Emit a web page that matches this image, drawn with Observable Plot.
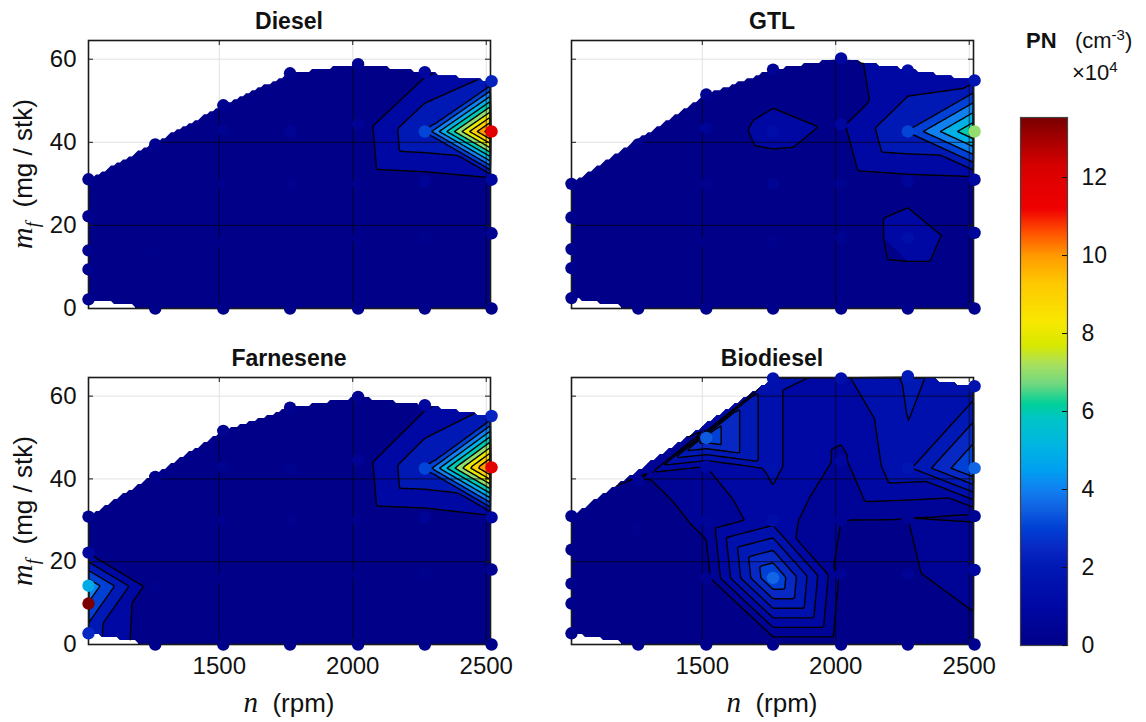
<!DOCTYPE html>
<html>
<head>
<meta charset="utf-8">
<script src="https://cdn.jsdelivr.net/npm/d3@7"></script>
<script src="https://cdn.jsdelivr.net/npm/@observablehq/plot@0.6"></script>
<style>
  body { margin: 0; background: #fff; font-family: "Liberation Sans", Arial, sans-serif; }
  #root { position: relative; width: 1146px; height: 722px; overflow: hidden; background: #fff; }
  .abs { position: absolute; }
  .title { font-weight: bold; font-size: 23px; text-align: center; width: 402px; color: #111; }
  .math { font-family: "Liberation Serif", "DejaVu Serif", serif; font-style: italic; }
  .xlab { font-size: 26px; text-align: center; width: 402px; color: #111; }
  .ylab { font-size: 26px; text-align: center; width: 280px; height: 34px; line-height: 34px; transform: rotate(-90deg); color: #111; white-space: nowrap; }
</style>
</head>
<body>
<div id="root"></div>
<script>
// ---------------- data ----------------
const fuels = ["Diesel", "GTL", "Farnesene", "Biodiesel"];
const rpm = [1010,1010,1010,1010,1010, 1260,1260,1260,1260, 1515,1515,1515,1515,1515,
             1765,1765,1765,1765,1765, 2020,2020,2020,2020,2020, 2270,2270,2270,2270,2270,
             2520,2520,2520,2520,2520];

const mfDiesel = [2.2,9.4,14,22.2,31.1, 0,14,28,39.5, 0,16,30,43,48.9, 0,16,30,42.6,56.6,
                  0,17,30,44.3,58.8, 0,17,30.6,42.6,56.9, 0,18.1,31,42.6,54.7];
const pnDiesel = [0.2,0.2,0.2,0.2,0.2, 0.1,0.1,0.1,0.2, 0.1,0.1,0.2,0.3,0.3, 0.1,0.1,0.2,0.4,0.3,
                  0.1,0.1,0.2,0.4,0.3, 0.1,0.2,0.5,3.1,0.8, 0.1,0.3,0.9,11.9,2.3];

const mfGTL = [2.5,9.7,14.3,21.9,30, 0,14,28,39.5, 0,16,30,43.4,51.5, 0,16,30,42.6,57.5,
               0,17,30,44.3,60.2, 0,17,30.6,42.6,57.3, 0,18.2,31,42.6,54.9];
const pnGTL = [0.2,0.2,0.2,0.2,0.2, 0.1,0.1,0.1,0.2, 0.1,0.1,0.2,0.5,0.3, 0.1,0.2,0.4,1.3,0.5,
               0.1,0.3,0.3,0.85,0.9, 0.2,1.4,0.65,3.1,1.2, 0.2,0.6,0.85,7.0,1.8];

const mfFarnesene = [2.7,9.9,14.2,22.2,30.9, 0,14,28,40.5, 0,16,30,43,51.6, 0,16,30,42.6,57.2,
                     0,17,30,44.5,59.8, 0,17,30.7,42.5,57.8, 0,18.1,30.7,42.8,55.2];
const pnFarnesene = [2.5,13.5,4.8,0.9,0.2, 0.1,0.2,0.1,0.2, 0.1,0.1,0.2,0.3,0.3, 0.1,0.1,0.2,0.3,0.3,
                     0.1,0.1,0.2,0.4,0.3, 0.1,0.2,0.5,3.1,0.8, 0.1,0.3,0.9,11.8,2.4];

const mfBiodiesel = [2.7,9.9,14.7,22.9,31, 0,14,28,39.5, 0,16,30,43,49.9, 0,16.1,30,42.6,64.3,
                     0,17,30,44.3,64.3, 0,17,30.6,42.6,64.8, 0,18,31,42.6,62.4];
const pnBiodiesel = [0.1,0.1,0.1,0.1,0.2, 0.1,0.1,0.2,0.4, 0.1,0.3,0.6,1.0,3.4, 0.1,3.6,1.3,1.6,1.6,
                     0.1,0.4,0.5,0.9,1.4, 0.2,0.4,0.5,1.9,2.1, 0.2,0.9,0.45,3.6,1.7];

// point left out of the interpolated surface (shown only as a dot)
const surfaceExcluded = {Farnesene: [1]};
const contourStep = {Diesel: 1, GTL: 1, Farnesene: 1, Biodiesel: 0.5};

const xTicks = [1500, 2000, 2500];
const yTicks = [0, 20, 40, 60];
const cbTicks = [0, 2, 4, 6, 8, 10, 12];
const pnMax = 13.54;

const jetValues = [0, 1, 2, 2.5, 3, 3.5, 4, 4.5, 5.2, 5.8, 6.2, 6.7, 7.2, 7.7, 8.3, 9.3, 10, 10.6, 11.2, 12.3, 13.54];
const jetColors = ["#000088","#0008a4","#0018b4","#0828c4","#0040d4","#1060e2","#1080f0","#00a0f0","#00b8e0",
                   "#00c4c8","#00d098","#70d880","#a8e060","#d8e800","#f8e800","#ffc800","#ff9a00","#ff5000",
                   "#f00000","#d80000","#780000"];

const series = {
  Diesel: [mfDiesel, pnDiesel], GTL: [mfGTL, pnGTL],
  Farnesene: [mfFarnesene, pnFarnesene], Biodiesel: [mfBiodiesel, pnBiodiesel]
};

// ---------------- layout ----------------
const root = document.getElementById("root");
const FONT = "'Liberation Sans', Arial, sans-serif";
const color = {type: "linear", domain: jetValues, range: jetColors, clamp: true};
const xDomain = [1010, 2516];
const yDomain = [0, 64.5];
const layout = {
  Diesel:    {left: 0,   top: 0,   bottom: false, leftAxis: true},
  GTL:       {left: 483, top: 0,   bottom: false, leftAxis: false},
  Farnesene: {left: 0,   top: 337, bottom: true,  leftAxis: true},
  Biodiesel: {left: 483, top: 337, bottom: true,  leftAxis: false}
};

function segDist(p, a, b) {
  const dx = b[0] - a[0], dy = b[1] - a[1];
  const L = dx * dx + dy * dy;
  let t = L ? ((p[0] - a[0]) * dx + (p[1] - a[1]) * dy) / L : 0;
  t = Math.max(0, Math.min(1, t));
  const x = a[0] + t * dx - p[0], y = a[1] + t * dy - p[1];
  return Math.sqrt(x * x + y * y);
}

// barycentric interpolation, masked to the convex hull of the measured points
function maskedBarycentric() {
  const bary = Plot.interpolatorBarycentric();
  return (index, w, h, X, Y, V) => {
    const out = bary(index, w, h, X, Y, V);
    const hull = d3.polygonHull(Array.from(index, (i) => [X[i], Y[i]]));
    for (let r = 0; r < h; ++r) {
      for (let c = 0; c < w; ++c) {
        const p = [c + 0.5, r + 0.5];
        if (d3.polygonContains(hull, p)) continue;
        let dmin = Infinity;
        for (let k = 0; k < hull.length; ++k) dmin = Math.min(dmin, segDist(p, hull[k], hull[(k + 1) % hull.length]));
        if (dmin > 0.5) out[r * w + c] = -1e6;
      }
    }
    return out;
  };
}

const ns = "http://www.w3.org/2000/svg";

fuels.forEach((fuel, k) => {
  const [mf, pn] = series[fuel];
  const L = layout[fuel];
  const data = rpm.map((r, i) => ({rpm: r, mf: mf[i], pn: pn[i], i}));
  const excl = surfaceExcluded[fuel] || [];
  const surf = data.filter((d) => !excl.includes(d.i));
  const step = contourStep[fuel];
  const thresholds = d3.range(0, 13.5, step);
  const frameH = L.bottom ? 267 : 268;
  const frameW = 402;
  const mt = 40, mb = L.bottom ? 40 : 12, ml = 88, mr = 10;

  const marks = [
    Plot.gridX(xTicks, {stroke: "#e2e2e2", strokeOpacity: 1}),
    Plot.gridY(yTicks, {stroke: "#e2e2e2", strokeOpacity: 1}),
    Plot.contour(surf, {x: "rpm", y: "mf", fill: "pn", interpolate: maskedBarycentric(),
                        thresholds, pixelSize: 3, stroke: "none"}),
    Plot.contour(surf, {x: "rpm", y: "mf", value: "pn", interpolate: Plot.interpolatorBarycentric(),
                        thresholds: thresholds.filter((t) => t > 0), pixelSize: 2,
                        fill: "none", stroke: "#000", strokeWidth: 1.4}),
    Plot.ruleX(xTicks, {stroke: "#000", strokeOpacity: 0.65, strokeWidth: 1}),
    Plot.ruleY(yTicks, {stroke: "#000", strokeOpacity: 0.65, strokeWidth: 1}),
    Plot.frame({stroke: "#1a1a1a", strokeWidth: 1.6}),
    Plot.ruleX(xTicks, {insetTop: frameH - 5, stroke: "#1a1a1a"}),
    Plot.ruleX(xTicks, {insetBottom: frameH - 5, stroke: "#1a1a1a"}),
    Plot.ruleY(yTicks, {insetRight: frameW - 5, stroke: "#1a1a1a"}),
    Plot.ruleY(yTicks, {insetLeft: frameW - 5, stroke: "#1a1a1a"}),
    Plot.dot(data, {x: "rpm", y: "mf", fill: "pn", r: 6.2, stroke: "none"})
  ];
  if (L.bottom) marks.push(Plot.axisX(xTicks, {anchor: "bottom", tickSize: 0, tickPadding: 12, fontSize: 24,
                                               label: null, tickFormat: (d) => String(d), fill: "#111"}));
  if (L.leftAxis) marks.push(Plot.axisY(yTicks, {anchor: "left", tickSize: 0, tickPadding: 12, fontSize: 24,
                                                 label: null, tickFormat: (d) => String(d), fill: "#111"}));

  const plot = Plot.plot({
    width: ml + frameW + mr, height: mt + frameH + mb,
    marginLeft: ml, marginRight: mr, marginTop: mt, marginBottom: mb,
    x: {domain: xDomain, ...(L.bottom ? {} : {axis: null})},
    y: {domain: yDomain, ...(L.leftAxis ? {} : {axis: null})},
    color,
    style: {background: "transparent", overflow: "visible", fontFamily: FONT, color: "#111"},
    marks
  });
  plot.style.position = "absolute";
  plot.style.left = L.left + "px";
  plot.style.top = L.top + "px";
  root.appendChild(plot);

  // clip contour lines and dark grid to the measured region
  const sx = plot.scale("x"), sy = plot.scale("y");
  const hull = d3.polygonHull(surf.map((d) => [sx.apply(d.rpm), sy.apply(d.mf)]));
  const defs = document.createElementNS(ns, "defs");
  const cp = document.createElementNS(ns, "clipPath");
  cp.setAttribute("id", "hull" + k);
  const poly = document.createElementNS(ns, "polygon");
  poly.setAttribute("points", hull.map((p) => p.join(",")).join(" "));
  cp.appendChild(poly);
  defs.appendChild(cp);
  plot.insertBefore(defs, plot.firstChild);
  const contours = plot.querySelectorAll('g[aria-label="contour"]');
  if (contours[1]) contours[1].setAttribute("clip-path", `url(#hull${k})`);
  const rules = plot.querySelectorAll('g[aria-label="rule"]');
  for (let j = 0; j < 2 && j < rules.length; ++j) rules[j].setAttribute("clip-path", `url(#hull${k})`);

  // title
  const t = document.createElement("div");
  t.className = "abs title";
  t.textContent = fuel;
  t.style.left = (L.left + ml) + "px";
  t.style.top = (L.top + 8) + "px";
  root.appendChild(t);

  if (L.bottom) {
    const xl = document.createElement("div");
    xl.className = "abs xlab";
    xl.innerHTML = '<span class="math" style="font-size:29px">n</span>&nbsp;&nbsp;(rpm)';
    xl.style.left = (L.left + ml) + "px";
    xl.style.top = "686px";
    root.appendChild(xl);
  }
  if (L.leftAxis) {
    const yl = document.createElement("div");
    yl.className = "abs ylab";
    yl.innerHTML = '<span class="math" style="font-size:30px">m<sub style="font-size:19px">f</sub></span>&nbsp;&nbsp;(mg / stk)';
    const cy = L.top + mt + frameH / 2;
    yl.style.left = (22 - 140) + "px";
    yl.style.top = (cy - 17) + "px";
    root.appendChild(yl);
  }
});

// ---------------- colorbar ----------------
const cbH = 528, cbW = 47;
const cb = Plot.plot({
  width: 20 + cbW + 79, height: 17 + cbH + 20,
  marginLeft: 20, marginRight: 79, marginTop: 17, marginBottom: 20,
  x: {domain: [0, 1], axis: null},
  y: {domain: [0, pnMax]},
  color,
  style: {background: "transparent", overflow: "visible", fontFamily: FONT, color: "#111"},
  marks: [
    Plot.raster({fill: (x, y) => y, x1: 0, x2: 1, y1: 0, y2: pnMax, pixelSize: 1}),
    Plot.frame({stroke: "#444", strokeWidth: 1.2}),
    Plot.ruleY(cbTicks, {insetLeft: cbW - 5, stroke: "#111"}),
    Plot.axisY(cbTicks, {anchor: "right", tickSize: 0, tickPadding: 14, fontSize: 23, label: null,
                         tickFormat: (d) => String(d), fill: "#111"})
  ]
});
cb.style.position = "absolute";
cb.style.left = "1000px";
cb.style.top = "100px";
root.appendChild(cb);

const lt = document.createElement("div");
lt.className = "abs";
lt.style.left = "1026px"; lt.style.top = "26px"; lt.style.fontSize = "22px"; lt.style.whiteSpace = "nowrap"; lt.style.color = "#111";
lt.innerHTML = '<b>PN</b>&nbsp;&nbsp;&nbsp;(cm<sup style="font-size:15px">-3</sup>)';
root.appendChild(lt);
const lx = document.createElement("div");
lx.className = "abs";
lx.style.left = "1072px"; lx.style.top = "58px"; lx.style.fontSize = "22px"; lx.style.whiteSpace = "nowrap"; lx.style.color = "#111";
lx.innerHTML = '&times;10<sup style="font-size:15px">4</sup>';
root.appendChild(lx);
</script>
</body>
</html>
